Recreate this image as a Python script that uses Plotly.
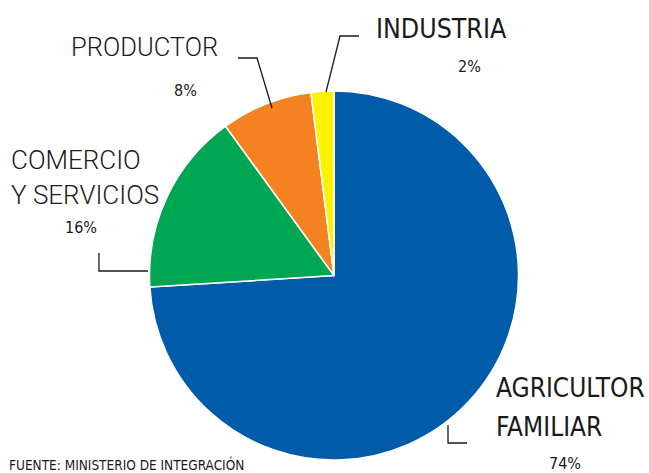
import plotly.graph_objects as go

# datos
sectores = ["AGRICULTOR FAMILIAR", "COMERCIO Y SERVICIOS", "PRODUCTOR", "INDUSTRIA"]
porcentajes = [74, 16, 8, 2]
colores = ["#005BAA", "#00A651", "#F58220", "#FFF200"]
fuente = "FUENTE: MINISTERIO DE INTEGRACIÓN"

W, H = 649, 473
NARROW = "DejaVu Sans Condensed, Roboto, sans-serif"
LIGHT = "Roboto, Helvetica, Arial, sans-serif"


def px(x, y):
    # pixeles -> coordenadas paper
    return x / W, 1 - y / H


fig = go.Figure()

# centro del pie ~ (334, 275.5), radio ~184.5
cx, cy, r = 334, 275.5, 184.5
x0, y1 = px(cx - r, cy - r)
x1, y0 = px(cx + r, cy + r)

fig.add_trace(go.Pie(
    labels=sectores,
    values=porcentajes,
    sort=False,
    direction="clockwise",
    rotation=0,
    marker=dict(colors=colores, line=dict(color="white", width=1.5)),
    textinfo="none",
    hoverinfo="label+percent",
    domain=dict(x=[x0, x1], y=[y0, y1]),
))

# etiquetas: (texto, x, y, fuente, tamaño, peso)
etiquetas = [
    ("INDUSTRIA", 374, 28, NARROW, 26.5, 400),
    ("PRODUCTOR", 69, 47, LIGHT, 25.5, 300),
    ("COMERCIO", 9, 160, LIGHT, 26, 300),
    ("Y SERVICIOS", 9, 195, LIGHT, 26, 300),
    ("AGRICULTOR", 494, 388, NARROW, 26, 400),
    ("FAMILIAR", 494, 427, NARROW, 26, 400),
]
pct_pos = {"INDUSTRIA": (470, 66), "PRODUCTOR": (186, 91),
           "COMERCIO Y SERVICIOS": (81, 227), "AGRICULTOR FAMILIAR": (565, 463)}

annotations = []
for txt, x, y, fam, size, peso in etiquetas:
    ax, ay = px(x, y)
    annotations.append(dict(
        x=ax, y=ay, xref="paper", yref="paper", text=txt, showarrow=False,
        xanchor="left", yanchor="middle",
        font=dict(family=fam, size=size, color="#1a1a1a", weight=peso),
    ))

for s, v in zip(sectores, porcentajes):
    ax, ay = px(*pct_pos[s])
    annotations.append(dict(
        x=ax, y=ay, xref="paper", yref="paper", text=f"{v}%", showarrow=False,
        xanchor="center", yanchor="middle",
        font=dict(family=NARROW, size=16, color="#1a1a1a"),
    ))

fx, fy = px(7, 464)
annotations.append(dict(
    x=fx, y=fy, xref="paper", yref="paper", text=fuente, showarrow=False,
    xanchor="left", yanchor="middle",
    font=dict(family=NARROW, size=13.5, color="#1a1a1a"),
))

# lineas guia (pixeles)
guias = [
    [(326, 92), (340, 36), (359, 36)],
    [(272, 108), (257, 58), (238, 58)],
    [(148, 271), (99, 271), (99, 253)],
    [(467, 443), (448, 443), (448, 425)],
]
shapes = []
for pts in guias:
    path = ""
    for i, (x, y) in enumerate(pts):
        ax, ay = px(x, y)
        path += ("M" if i == 0 else "L") + f"{ax:.4f},{ay:.4f} "
    shapes.append(dict(type="path", path=path.strip(), xref="paper", yref="paper",
                       line=dict(color="#1a1a1a", width=1.3)))

fig.update_layout(
    width=W, height=H,
    margin=dict(l=0, r=0, t=0, b=0),
    paper_bgcolor="white",
    plot_bgcolor="white",
    showlegend=False,
    annotations=annotations,
    shapes=shapes,
)

fig.write_html("out.html", config={"displayModeBar": False},
               post_script="document.body.style.margin='0';")
